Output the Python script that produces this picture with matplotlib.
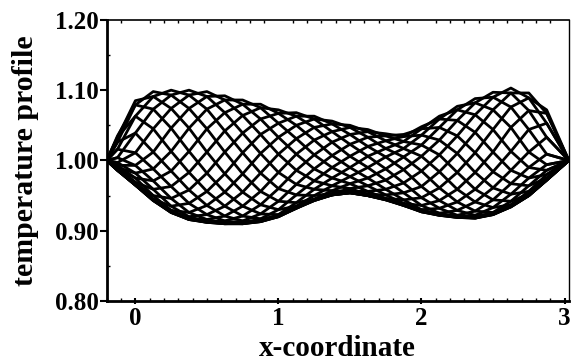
import matplotlib
matplotlib.use("Agg")
import matplotlib.pyplot as plt
from matplotlib.ticker import MultipleLocator

x = [-0.2, -0.125, 0.0, 0.125, 0.25, 0.375, 0.5, 0.625, 0.75, 0.875, 1.0,
     1.125, 1.25, 1.375, 1.5, 1.625, 1.75, 1.875, 2.0, 2.125, 2.25,
     2.375, 2.5, 2.625, 2.75, 2.875, 3.03]

# temperature profiles, one list per snapshot
t00 = [1.0, 1.033, 1.085, 1.091, 1.074, 1.046, 1.012, .981, .955, .937, .930, .935, .944,
       .951, .954, .950, .945, .939, .936, .943, .959, .983, 1.012, 1.047, 1.071, 1.067, 1.0]
t01 = [1.0, 1.026, 1.079, 1.098, 1.093, 1.074, 1.045, 1.012, .981, .956, .942, .940, .945,
       .951, .954, .950, .944, .937, .930, .932, .941, .959, .984, 1.013, 1.044, 1.053, 1.0]
t02 = [1.0, 1.016, 1.063, 1.091, 1.100, 1.093, 1.073, 1.042, 1.011, .982, .960, .951, .950,
       .953, .954, .950, .944, .936, .928, .925, .929, .941, .961, .986, 1.012, 1.033, 1.0]
t03 = [1.0, 1.004, 1.039, 1.073, 1.093, 1.100, 1.091, 1.068, 1.039, 1.010, .983, .966, .959,
       .957, .956, .950, .944, .936, .927, .923, .922, .928, .944, .967, .990, 1.009, 1.0]
t04 = [1.0, .997, 1.011, 1.045, 1.074, 1.093, 1.098, 1.086, 1.064, 1.037, 1.009, .986, .971,
       .964, .960, .952, .945, .936, .927, .922, .920, .922, .933, .952, .975, .994, 1.0]
t05 = [1.0, .993, .993, 1.012, 1.046, 1.074, 1.091, 1.092, 1.080, 1.059, 1.033, 1.009, .988,
       .975, .967, .956, .946, .937, .927, .922, .919, .919, .926, .942, .964, .986, 1.0]
t06 = [1.0, .990, .982, .988, 1.013, 1.046, 1.073, 1.086, 1.086, 1.075, 1.053, 1.031, 1.008,
       .990, .977, .964, .951, .939, .928, .922, .919, .918, .924, .937, .956, .980, 1.0]
t07 = [1.0, .988, .975, .971, .985, 1.013, 1.045, 1.068, 1.080, 1.080, 1.067, 1.050, 1.029,
       1.007, .990, .975, .959, .944, .930, .923, .919, .918, .923, .935, .952, .975, 1.0]
t08 = [1.0, .987, .969, .959, .963, .983, 1.012, 1.042, 1.064, 1.075, 1.072, 1.063, 1.047,
       1.026, 1.006, .990, .972, .954, .936, .925, .920, .918, .923, .934, .950, .973, 1.0]
t09 = [1.0, .986, .967, .950, .946, .958, .982, 1.012, 1.039, 1.059, 1.067, 1.068, 1.059,
       1.041, 1.023, 1.006, .988, .968, .947, .932, .922, .919, .923, .934, .950, .972, 1.0]
t10 = [1.0, .986, .965, .945, .935, .939, .956, .981, 1.011, 1.037, 1.053, 1.063, 1.063,
       1.052, 1.037, 1.020, 1.005, .987, .963, .943, .929, .922, .924, .934, .950, .972, 1.0]
t11 = [1.0, .986, .965, .944, .929, .926, .936, .955, .981, 1.010, 1.033, 1.050, 1.059,
       1.056, 1.047, 1.033, 1.017, 1.005, .985, .961, .941, .928, .926, .935, .950, .972, 1.0]
t12 = [1.0, .986, .965, .943, .927, .920, .923, .935, .955, .982, 1.009, 1.031, 1.047,
       1.052, 1.050, 1.041, 1.028, 1.017, 1.006, .984, .959, .941, .933, .937, .950, .972, 1.0]
t13 = [1.0, .986, .965, .943, .926, .917, .916, .921, .935, .956, .983, 1.009, 1.029,
       1.041, 1.047, 1.044, 1.035, 1.027, 1.022, 1.008, .983, .959, .944, .942, .952, .972, 1.0]
t14 = [1.0, .987, .965, .943, .926, .916, .913, .914, .921, .937, .960, .986, 1.008,
       1.026, 1.037, 1.041, 1.038, 1.034, 1.036, 1.029, 1.010, .983, .961, .952, .956, .973, 1.0]
t15 = [1.0, .988, .967, .944, .926, .916, .912, .911, .914, .924, .942, .966, .988,
       1.007, 1.023, 1.033, 1.035, 1.037, 1.045, 1.047, 1.035, 1.011, .984, .967, .964, .975, 1.0]
t16 = [1.0, .990, .969, .945, .927, .916, .912, .910, .911, .917, .930, .951, .971,
       .990, 1.006, 1.020, 1.028, 1.034, 1.048, 1.059, 1.057, 1.040, 1.012, .986, .975, .980, 1.0]
t17 = [1.0, .993, .975, .950, .929, .917, .912, .910, .910, .914, .923, .940, .959,
       .975, .990, 1.006, 1.017, 1.027, 1.045, 1.063, 1.072, 1.065, 1.044, 1.013, .990, .986, 1.0]
t18 = [1.0, .997, .982, .959, .935, .920, .913, .910, .910, .913, .921, .935, .950,
       .964, .977, .990, 1.005, 1.017, 1.036, 1.059, 1.077, 1.082, 1.072, 1.047, 1.012, .994, 1.0]
t19 = [1.0, 1.004, .993, .971, .946, .926, .916, .911, .910, .913, .920, .933, .945,
       .957, .967, .975, .988, 1.005, 1.022, 1.047, 1.072, 1.088, 1.090, 1.076, 1.044, 1.009, 1.0]
t20 = [1.0, 1.016, 1.011, .988, .963, .939, .923, .914, .911, .913, .920, .932, .944,
       .953, .960, .964, .972, .987, 1.006, 1.029, 1.057, 1.082, 1.097, 1.096, 1.071, 1.033, 1.0]
t21 = [1.0, 1.026, 1.039, 1.012, .985, .958, .936, .921, .914, .914, .920, .932, .943,
       .951, .956, .956, .959, .968, .985, 1.008, 1.035, 1.065, 1.090, 1.103, 1.089, 1.053, 1.0]
t22 = [1.0, 1.033, 1.063, 1.045, 1.013, .983, .956, .935, .921, .917, .921, .932, .943,
       .951, .954, .952, .951, .954, .963, .984, 1.010, 1.040, 1.072, 1.096, 1.096, 1.067, 1.0]
t23 = [1.0, 1.035, 1.079, 1.073, 1.046, 1.013, .982, .955, .935, .924, .923, .933, .943,
       .951, .954, .950, .946, .944, .947, .961, .983, 1.011, 1.044, 1.076, 1.089, 1.072, 1.0]

profiles = [t00, t01, t02, t03, t04, t05, t06, t07, t08, t09, t10, t11,
            t12, t13, t14, t15, t16, t17, t18, t19, t20, t21, t22, t23]

xticks = [0, 1, 2, 3]
yticks = [0.80, 0.90, 1.00, 1.10, 1.20]
ytick_labels = ["0.80", "0.90", "1.00", "1.10", "1.20"]

plt.rcParams["font.family"] = ["Liberation Serif", "DejaVu Serif"]
plt.rcParams["font.weight"] = "bold"

fig = plt.figure(figsize=(5.74, 3.61), dpi=100)
ax = fig.add_axes([0.186, 0.166, 0.805, 0.779])

for p in profiles:
    ax.plot(x, p, color="black", lw=2.0, solid_joinstyle="round")

ax.set_xlim(-0.2, 3.03)
ax.set_ylim(0.8, 1.2)
ax.set_xticks(xticks)
ax.set_xticklabels([str(t) for t in xticks])
ax.set_yticks(yticks)
ax.set_yticklabels(ytick_labels)
ax.xaxis.set_minor_locator(MultipleLocator(0.1))
ax.yaxis.set_minor_locator(MultipleLocator(0.05))

ax.tick_params(axis="y", which="major", direction="out", length=5, width=1.5,
               labelsize=18, pad=1)
ax.tick_params(axis="x", which="major", direction="inout", length=4, width=1.5,
               labelsize=18, pad=2)
ax.tick_params(which="minor", direction="in", length=2, width=1.0,
               top=True)

ax.spines["left"].set_linewidth(2.0)
ax.spines["bottom"].set_linewidth(2.0)
ax.spines["top"].set_linewidth(1.2)
ax.spines["right"].set_linewidth(1.0)

ax.set_xlabel("x-coordinate", fontsize=21, fontweight="bold", labelpad=4)
ax.set_ylabel("temperature profile", fontsize=21.5, fontweight="bold", labelpad=11)

fig.savefig("out.png", dpi=100)
